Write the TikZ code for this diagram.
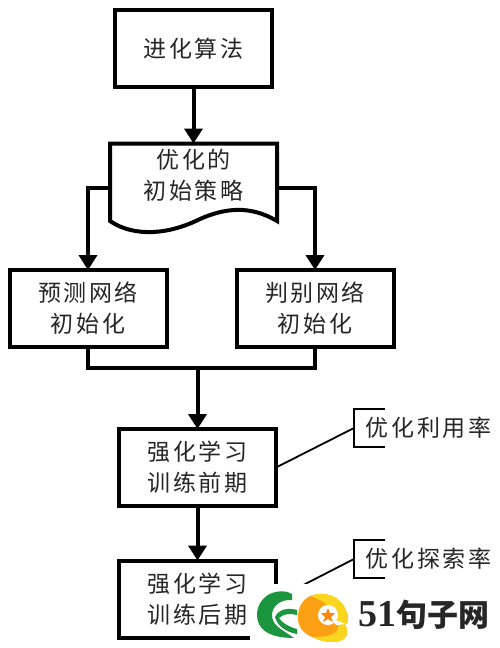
\documentclass[tikz,border=0pt]{standalone}
\usepackage{fontspec}
\usetikzlibrary{arrows.meta}
\newfontfamily\cjk[LetterSpace=11]{Noto Sans CJK SC}
\newfontfamily\cjkb{Noto Sans CJK SC Bold}
\newfontfamily\wmlat{Liberation Serif}
\definecolor{wmgreen}{RGB}{28,150,62}
\definecolor{wmorange}{RGB}{253,160,20}
\definecolor{wmyellow}{RGB}{250,215,30}
\tikzset{
  x=1pt,y=-1pt,
  flowbox/.style={draw=black,line width=4pt,fill=white,minimum width=157pt,minimum height=77pt,inner sep=0pt,outer sep=0pt,align=center,font=\fontsize{23}{31}\cjk,text=black!85},
  tag/.style={inner sep=0pt,outer sep=0pt,font=\fontsize{23}{26}\cjk,text=black!85},
  conn/.style={line width=4pt,-{Triangle[width=18pt,length=15pt]}},
  plain/.style={line width=4pt},
  thin/.style={line width=1.8pt}
}
\begin{document}
\begin{tikzpicture}
\useasboundingbox (0,0) rectangle (500,648);
\fill[white] (0,0) rectangle (500,648);
\node[flowbox] (algo) at (193.5,48.5) {进化算法};
\node[inner sep=0pt,outer sep=0pt,minimum width=167pt,minimum height=79pt] (doc) at (193.5,183) {};
\draw[line width=4pt,line join=miter] (doc.north west) -- (doc.north east) -- (277,221)
  .. controls (250,205) and (225,208) .. (200,219)
  .. controls (170,234) and (135,238) .. (110,221) -- cycle;
\node[inner sep=0pt,outer sep=0pt,align=center,font=\fontsize{23}{31}\cjk,text=black!85] (doctext) at (193.5,175.5) {优化的\\初始策略};
\node[flowbox] (pred) at (88,308.5) {预测网络\\初始化};
\node[flowbox] (disc) at (315,308.5) {判别网络\\初始化};
\node[flowbox] (early) at (197.5,467.5) {强化学习\\训练前期};
\node[flowbox] (late) at (197.5,599) {强化学习\\训练后期};
\coordinate (merge) at (197.5,368);
\coordinate (mergeL) at (pred.south |- merge);
\coordinate (mergeR) at (disc.south |- merge);
\coordinate (docL) at (doc.west |- 0,188);
\coordinate (docR) at (doc.east |- 0,188);
\draw[conn] (algo.south) -- (algo.south |- doc.north);
\draw[conn] (docL) -| (pred.north);
\draw[conn] (docR) -| (disc.north);
\draw[plain] (pred.south) -- (mergeL) -- (mergeR) -- (disc.south);
\draw[conn] (merge) -- (early.north);
\draw[conn] (early.south) -- (late.north);
\node[tag] (use) at (428.5,428) {优化利用率};
\node[tag] (exp) at (428.5,559) {优化探索率};
\coordinate (useB) at (354,428);
\coordinate (expB) at (354,559);
\draw[thin] (385,409) -- (354,409) -- (354,447) -- (385,447);
\draw[thin] (385,540) -- (354,540) -- (354,578) -- (385,578);
\draw[thin] (early.east) -- (useB);
\draw[thin] (late.east) -- (expB);
% watermark
\fill[white] (250,584) rectangle (500,648);
\fill[wmgreen] (292,594) .. controls (286,590) and (278,591) .. (272,593)
  .. controls (262,597) and (257,606) .. (257,615)
  .. controls (257,628) and (267,638) .. (294,638)
  .. controls (283,630) and (272,626) .. (272,615)
  .. controls (272,606) and (281,599) .. (292,600) -- cycle;
\fill[wmgreen] (297,610) .. controls (287,607) and (278,610) .. (275,617)
  .. controls (277,625) and (285,632) .. (297,634) -- (297,629)
  .. controls (289,627) and (281,622) .. (279,618) .. controls (283,614) and (290,613) .. (297,615) -- cycle;
\fill[wmorange] (298,618) .. controls (298,606) and (303,600) .. (310,596)
  .. controls (326,590) and (345,597) .. (348,618)
  .. controls (348,622) and (347,624) .. (345,625)
  .. controls (349,630) and (349,642) .. (333,642)
  .. controls (325,642) and (318,640) .. (312,637)
  .. controls (303,633) and (298,627) .. (298,618) -- cycle;
\fill[wmyellow] (310,596) .. controls (326,590) and (345,597) .. (348,618)
  .. controls (348,622) and (347,624) .. (345,625)
  .. controls (349,630) and (349,642) .. (333,642)
  .. controls (325,642) and (318,640) .. (312,637)
  .. controls (325,637) and (336,636) .. (338,628)
  .. controls (339,612) and (325,600) .. (310,596) -- cycle;
\fill[white] (328,615) circle (10pt);
\fill[white] (330,618) -- (346,624) -- (336,625) -- cycle;
\fill[wmorange!85!red] (328,608) -- (330,613) -- (335,613) -- (331,617) -- (333,622) -- (328,619) -- (323,622) -- (325,617) -- (321,613) -- (326,613) -- cycle;
\node[inner sep=0pt,font=\fontsize{38}{38}\wmlat\bfseries,text=black!85,anchor=west] (wm) at (358,615) {51{\fontsize{31}{30}\cjkb 句子网}};
\end{tikzpicture}
\end{document}
